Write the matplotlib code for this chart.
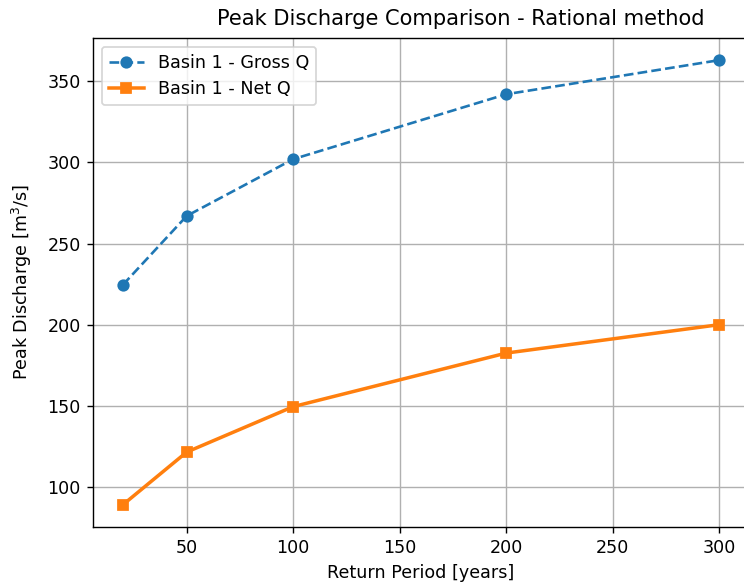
import matplotlib
matplotlib.use("Agg")
import matplotlib.pyplot as plt

# return periods and peak discharges
return_period = [20, 50, 100, 200, 300]
gross_q = [224.5, 267, 302, 342, 363]
net_q = [89, 121.5, 149.5, 182.5, 200]

DPI = 126
fig = plt.figure(figsize=(744 / DPI, 583 / DPI), dpi=DPI)
# right edge of the axes falls just outside the image, as in the reference
ax = fig.add_axes([0.125, 0.096, 0.882, 0.839])
ax.spines["right"].set_visible(False)

ax.plot(return_period, gross_q, marker="o", linestyle="--", color="#1f77b4",
        label="Basin 1 - Gross Q")
ax.plot(return_period, net_q, marker="s", linestyle="-", linewidth=2, color="#ff7f0e",
        label="Basin 1 - Net Q")

ax.set_title("Peak Discharge Comparison - Rational method", x=0.561, pad=7.5)
ax.set_xlabel("Return Period [years]")
ax.set_ylabel("Peak Discharge [m$^3$/s]", labelpad=7.5)
ax.grid(True)
ax.legend(loc="upper left")

fig.savefig("out.png", dpi=DPI)
